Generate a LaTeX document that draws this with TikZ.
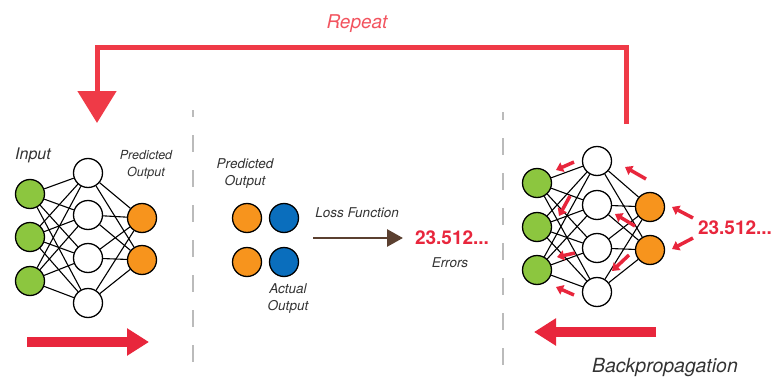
\documentclass[tikz,border=0pt]{standalone}
\usepackage{fontspec}
\setmainfont{TeX Gyre Heros}
\usetikzlibrary{arrows.meta}

\definecolor{inGreen}{HTML}{8CC63F}
\definecolor{outOrange}{HTML}{F7941D}
\definecolor{trueBlue}{HTML}{0A6EBD}
\definecolor{arrRed}{HTML}{E8263C}
\definecolor{loopRed}{HTML}{EF3A47}
\definecolor{lightRed}{HTML}{F2545F}
\definecolor{lossBrown}{HTML}{5B4030}
\definecolor{txtGray}{HTML}{333333}
\definecolor{sepGray}{HTML}{BBBBBB}

\begin{document}
\begin{tikzpicture}[x=1pt,y=-1pt,
  neuron/.style={circle,draw=black,line width=1.3pt,minimum size=29pt,inner sep=0pt,fill=white},
  green/.style={neuron,fill=inGreen},
  orange/.style={neuron,fill=outOrange},
  blue/.style={neuron,fill=trueBlue},
  edge/.style={draw=black,line width=1.1pt},
  label/.style={text=txtGray,font=\itshape\fontsize{13.5}{17}\selectfont,align=center,inner sep=0pt},
  errnum/.style={text=arrRed,font=\bfseries\fontsize{19}{22}\selectfont,inner sep=0pt},
  sep/.style={draw=sepGray,line width=1.5pt,dash pattern=on 17pt off 18pt},
  bigarrow/.style={draw=arrRed,line width=10pt,-{Triangle[length=22pt,width=26pt]}},
  smallarrow/.style={draw=arrRed,line width=3.5pt,-{Triangle[length=7pt,width=10pt]}}
]
\useasboundingbox (0,0) rectangle (774,380);

% ---- section separators ----
\coordinate (s1a) at (193,110); \coordinate (s1b) at (193,380);
\coordinate (s2a) at (503,112); \coordinate (s2b) at (503,380);
\draw[sep,dash phase=10pt] (s1a) -- (s1b);
\draw[sep,dash phase=9pt] (s2a) -- (s2b);

% ---- repeat loop ----
\node[text=lightRed,font=\itshape\fontsize{19}{22}\selectfont,inner sep=0pt] (rep) at (357,24) {Repeat};
\coordinate (loopStart) at (626,124);
\coordinate (loopTR) at (626,47);
\coordinate (loopTL) at (97,47);
\coordinate (loopEnd) at (97,123);
\draw[draw=loopRed,line width=5pt,line join=miter,
      -{Triangle[length=32pt,width=38pt]}]
  (loopStart) -- (loopTR) -- (loopTL) -- (loopEnd);

% ---- forward network ----
\node[green] (Lg1) at (30,194) {};
\node[green] (Lg2) at (30,237) {};
\node[green] (Lg3) at (30,281) {};
\node[neuron] (Lh1) at (88,173) {};
\node[neuron] (Lh2) at (88,215) {};
\node[neuron] (Lh3) at (88,258) {};
\node[neuron] (Lh4) at (88,303) {};
\node[orange] (Lo1) at (142,218) {};
\node[orange] (Lo2) at (142,260) {};
\foreach \g in {Lg1,Lg2,Lg3}
  \foreach \h in {Lh1,Lh2,Lh3,Lh4}
    \draw[edge] (\g) -- (\h);
\foreach \h in {Lh1,Lh2,Lh3,Lh4}
  \foreach \o in {Lo1,Lo2}
    \draw[edge] (\h) -- (\o);

\node[label,font=\itshape\fontsize{16}{19}\selectfont] (inLbl) at (33,155) {Input};
\node[label,font=\itshape\fontsize{12.5}{17.5}\selectfont] (predL) at (146,165) {Predicted\\Output};

\coordinate (fwA) at (27,342);
\coordinate (fwB) at (149,342);
\draw[bigarrow] (fwA) -- (fwB);

% ---- loss computation ----
\node[orange] (Mp1) at (247,218) {};
\node[orange] (Mp2) at (247,262) {};
\node[blue] (Ma1) at (284,218) {};
\node[blue] (Ma2) at (284,262) {};
\node[label] (predM) at (245,174) {Predicted\\Output};
\node[label] (actM) at (288,299) {Actual\\Output};
\node[label] (lossLbl) at (357,213) {Loss Function};
\coordinate (lossA) at (313,238);
\coordinate (lossB) at (403,238);
\draw[draw=lossBrown,line width=2.8pt,-{Triangle[length=16pt,width=17pt]}] (lossA) -- (lossB);
\node[errnum] (err1) at (452,238) {23.512...};
\node[label] (errLbl) at (450,263) {Errors};

% ---- backward network ----
\node[green] (Rg1) at (537,183) {};
\node[green] (Rg2) at (537,227) {};
\node[green] (Rg3) at (537,270) {};
\node[neuron] (Rh1) at (597,161) {};
\node[neuron] (Rh2) at (597,205) {};
\node[neuron] (Rh3) at (597,248) {};
\node[neuron] (Rh4) at (597,292) {};
\node[orange] (Ro1) at (650,207) {};
\node[orange] (Ro2) at (650,250) {};
\foreach \g in {Rg1,Rg2,Rg3}
  \foreach \h in {Rh1,Rh2,Rh3,Rh4}
    \draw[edge] (\g) -- (\h);
\foreach \h in {Rh1,Rh2,Rh3,Rh4}
  \foreach \o in {Ro1,Ro2}
    \draw[edge] (\h) -- (\o);

\node[errnum] (err2) at (735,228) {23.512...};

% gradient arrows flowing back through the network
\foreach \n/\tx/\ty/\hx/\hy in {
    b1/574/162/556/170,
    b2/646/179/625/167,
    b3/570/196/559/216,
    b4/635/226/615/214,
    b5/575/253/557/257,
    b6/629/255/612/271,
    b7/574/295/556/287,
    b8/693/218/672/207,
    b9/693/238/672/249} {
  \coordinate (\n t) at (\tx,\ty);
  \coordinate (\n h) at (\hx,\hy);
  \draw[smallarrow] (\n t) -- (\n h);
}

\coordinate (bwA) at (656,332);
\coordinate (bwB) at (534,332);
\draw[bigarrow] (bwA) -- (bwB);
\node[label,font=\itshape\fontsize{19.5}{22}\selectfont] (bpLbl) at (665,368) {Backpropagation};

\end{tikzpicture}
\end{document}
